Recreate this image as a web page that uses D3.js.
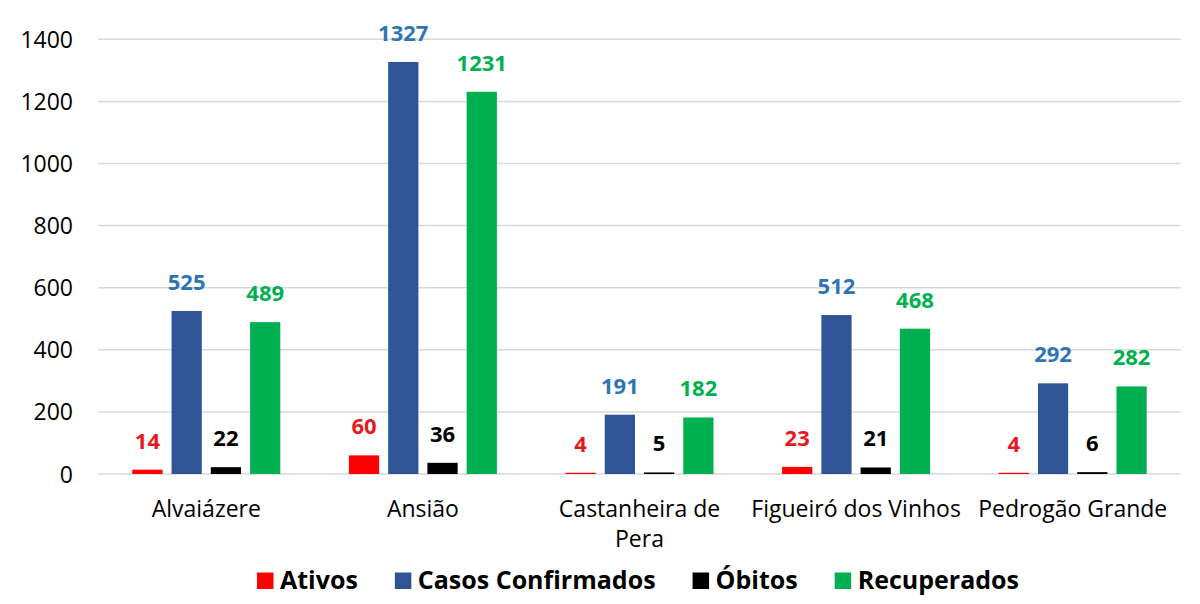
<!DOCTYPE html>
<html><head><meta charset="utf-8">
<script src="https://cdn.jsdelivr.net/npm/d3@7"></script>
<style>body{margin:0;background:#fff;} text{font-family:"Open Sans",sans-serif;}</style>
</head><body>
<svg id="c" width="1200" height="604"></svg>
<script>
const categories = ["Alvaiázere","Ansião","Castanheira de Pera","Figueiró dos Vinhos","Pedrogão Grande"];
const seriesNames = ["Ativos","Casos Confirmados","Óbitos","Recuperados"];
const ativos = [14,60,4,23,4];
const casosConfirmados = [525,1327,191,512,292];
const obitos = [22,36,5,21,6];
const recuperados = [489,1231,182,468,282];
const yTicks = [0,200,400,600,800,1000,1200,1400];

const barColors = ["#ff0000","#2f5597","#000000","#00b050"];
const labelColors = ["#e8191e","#2e75b6","#000000","#00b050"];
const seriesValues = [ativos,casosConfirmados,obitos,recuperados];

const FONT = "'Open Sans',sans-serif";
const svg = d3.select("#c");
const x0 = 98, x1 = 1181, yTop = 39.3, yBot = 474;
const y = d3.scaleLinear().domain([0,1400]).range([yBot,yTop]);
const xb = d3.scaleBand().domain(categories).range([x0,x1]).paddingInner(0).paddingOuter(0);
const xs = d3.scaleBand().domain(seriesNames).range([0,148]).paddingInner(0.23).paddingOuter(0);

// gridlines
svg.append("g").selectAll("line").data(yTicks).join("line")
  .attr("x1",x0).attr("x2",x1).attr("y1",d=>y(d)).attr("y2",d=>y(d))
  .attr("stroke","#d9d9d9").attr("stroke-width",1.5);

// y axis labels
const yAxis = d3.axisLeft(y).tickValues(yTicks).tickFormat(d3.format("d")).tickSize(0).tickPadding(0);
const ga = svg.append("g").attr("transform","translate(73,0)").call(yAxis);
ga.select(".domain").remove();
ga.selectAll("text").attr("font-size",23).attr("fill","#000").attr("font-family",FONT).attr("dy","0.35em");

// bars
const groups = svg.append("g").selectAll("g").data(categories).join("g")
  .attr("transform",c=>`translate(${xb(c)+xb.bandwidth()/2-74},0)`);
groups.each(function(c,ci){
  const g = d3.select(this);
  seriesNames.forEach((s,si)=>{
    const v = seriesValues[si][ci];
    g.append("rect").attr("x",xs(s)).attr("width",xs.bandwidth())
      .attr("y",y(v)).attr("height",yBot-y(v)).attr("fill",barColors[si]);
    g.append("text").attr("x",xs(s)+xs.bandwidth()/2).attr("y",y(v)-21)
      .attr("text-anchor","middle").attr("font-size",22).attr("font-weight","bold")
      .attr("font-family",FONT).attr("fill",labelColors[si]).text(v);
  });
});

// category labels
const xAxis = d3.axisBottom(xb).tickSize(0).tickPadding(0);
const gx = svg.append("g").attr("transform",`translate(0,${yBot})`).call(xAxis);
gx.select(".domain").remove();
gx.selectAll("text").attr("font-size",23).attr("fill","#000").attr("font-family",FONT)
  .attr("dy",0).attr("y",43)
  .each(function(d){
    const t = d3.select(this);
    if (d === "Castanheira de Pera") {
      t.text(null);
      t.append("tspan").attr("x",0).attr("dy",0).text("Castanheira de");
      t.append("tspan").attr("x",0).attr("dy",30).text("Pera");
    }
  });

// legend
const leg = svg.append("g");
const items = leg.selectAll("g").data(seriesNames).join("g");
items.append("rect").attr("width",16.5).attr("height",16.5).attr("y",-16.5).attr("fill",(d,i)=>barColors[i]);
items.append("text").attr("x",23).attr("y",0).attr("font-size",25).attr("font-weight","bold")
  .attr("font-family",FONT).attr("fill","#000").text(d=>d);
let xpos = 0; const gap = 37;
items.each(function(){
  const w = 23 + this.querySelector("text").getComputedTextLength();
  d3.select(this).attr("transform",`translate(${xpos},589)`);
  xpos += w + gap;
});
const total = xpos - gap;
leg.attr("transform",`translate(${638 - total/2},0)`);
</script>
</body></html>
